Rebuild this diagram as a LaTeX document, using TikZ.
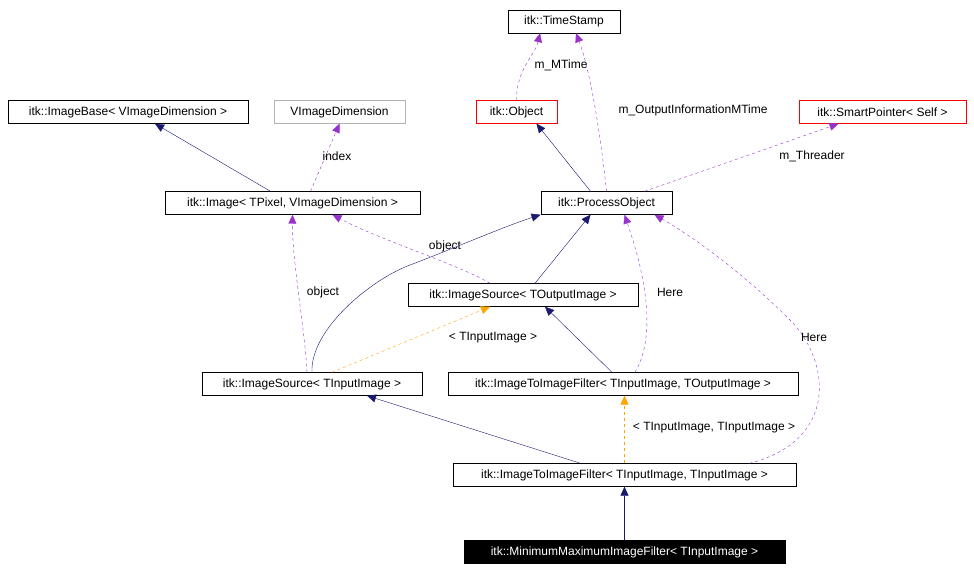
\documentclass[tikz,border=0pt]{standalone}
\usepackage{fontspec}
\setmainfont{Liberation Sans}
\usetikzlibrary{arrows.meta}
\definecolor{cNavy}{RGB}{25,25,112}
\definecolor{cUse}{RGB}{153,50,204}
\definecolor{cTpl}{RGB}{255,165,0}
\tikzset{
  cls/.style={draw=black, fill=white, minimum height=23pt, inner xsep=2pt, inner ysep=0pt, font=\fontsize{12}{13}\selectfont},
  inh/.style={cNavy, -{Triangle[length=9pt,width=8pt]}},
  use/.style={cUse, dashed, -{Triangle[length=9pt,width=8pt]}},
  tpl/.style={cTpl, dashed, -{Triangle[length=9pt,width=8pt]}},
  lbl/.style={font=\fontsize{12}{13}\selectfont, text=black, inner sep=1pt}
}
\begin{document}
\begin{tikzpicture}[x=1pt,y=-1pt]
\useasboundingbox (0,0) rectangle (974,572);
% classes
\node[cls, minimum width=112pt] (ts) at (564,21.5) {itk::TimeStamp};
\node[cls, minimum width=240pt] (ib) at (128,112) {itk::ImageBase< VImageDimension >};
\node[cls, minimum width=131pt, draw=gray!60] (vd) at (339.5,112) {VImageDimension};
\node[cls, minimum width=81pt, draw=red] (obj) at (516.5,112) {itk::Object};
\node[cls, minimum width=167pt, draw=red] (sp) at (882.5,112) {itk::SmartPointer< Self >};
\node[cls, minimum width=255pt] (img) at (292.5,203) {itk::Image< TPixel, VImageDimension >};
\node[cls, minimum width=131pt] (po) at (606.5,203) {itk::ProcessObject};
\node[cls, minimum width=230pt] (iso) at (523,295) {itk::ImageSource< TOutputImage >};
\node[cls, minimum width=220pt] (isi) at (312,384) {itk::ImageSource< TInputImage >};
\node[cls, minimum width=350pt] (fio) at (623,384) {itk::ImageToImageFilter< TInputImage, TOutputImage >};
\node[cls, minimum width=343pt] (fii) at (624.5,475) {itk::ImageToImageFilter< TInputImage, TInputImage >};
\node[cls, minimum width=321pt, fill=black, text=white] (mm) at (624.5,552) {itk::MinimumMaximumImageFilter< TInputImage >};
% connectors
\draw[inh] ([xshift=-22pt]img.north) -- ([xshift=27pt]ib.south);
\draw[use] ([xshift=18pt]img.north) -- (vd.south);
\node[lbl] (lIdx) at (337,156) {index};
\draw[use] (obj.north) .. controls (516,70) and (535,55) .. ([xshift=-24pt]ts.south);
\node[lbl, fill=white] (lMT) at (561,65) {m\_MTime};
\draw[use] (po.north) .. controls (600,130) and (590,70) .. ([xshift=12pt]ts.south);
\node[lbl] (lOI) at (693,110) {m\_OutputInformationMTime};
\draw[inh] ([xshift=-16pt]po.north) -- ([xshift=20pt]obj.south);
\draw[use] ([xshift=38pt]po.north) -- ([xshift=-44pt]sp.south);
\node[lbl] (lThr) at (812,156) {m\_Threader};
\draw[use] ([xshift=-33pt]iso.north) .. controls (460,265) and (380,240) .. ([xshift=40pt]img.south);
\node[lbl] (lO1) at (445,246) {object};
\draw[inh] ([xshift=12pt]iso.north) -- ([xshift=-16pt]po.south);
\draw[inh] (isi.north) .. controls (310,330) and (370,280) .. (410,265) .. controls (450,250) and (500,228) .. ([xshift=-66pt]po.south);
\draw[use] ([xshift=-5pt]isi.north) .. controls (305,330) and (292,260) .. (img.south);
\node[lbl] (lO2) at (323,292) {object};
\draw[tpl] ([xshift=20pt]isi.north) -- ([xshift=-33pt]iso.south);
\node[lbl] (lTI) at (493,338) {< TInputImage >};
\draw[inh] ([xshift=-11pt]fio.north) -- ([xshift=22pt]iso.south);
\draw[use] ([xshift=12pt]fio.north) .. controls (660,330) and (640,260) .. ([xshift=18pt]po.south);
\node[lbl] (lH1) at (670,292) {Here};
\draw[inh] ([xshift=-44pt]fii.north) -- ([xshift=55pt]isi.south);
\draw[tpl] (fii.north) -- (fii.north |- fio.south);
\node[lbl] (lTT) at (714,428) {< TInputImage, TInputImage >};
\draw[use] ([xshift=125pt]fii.north) .. controls (840,440) and (830,360) .. (790,320) .. controls (740,270) and (690,235) .. ([xshift=48pt]po.south);
\node[lbl] (lH2) at (814,337) {Here};
\draw[inh] (mm.north) -- (fii.south);
\end{tikzpicture}
\end{document}
